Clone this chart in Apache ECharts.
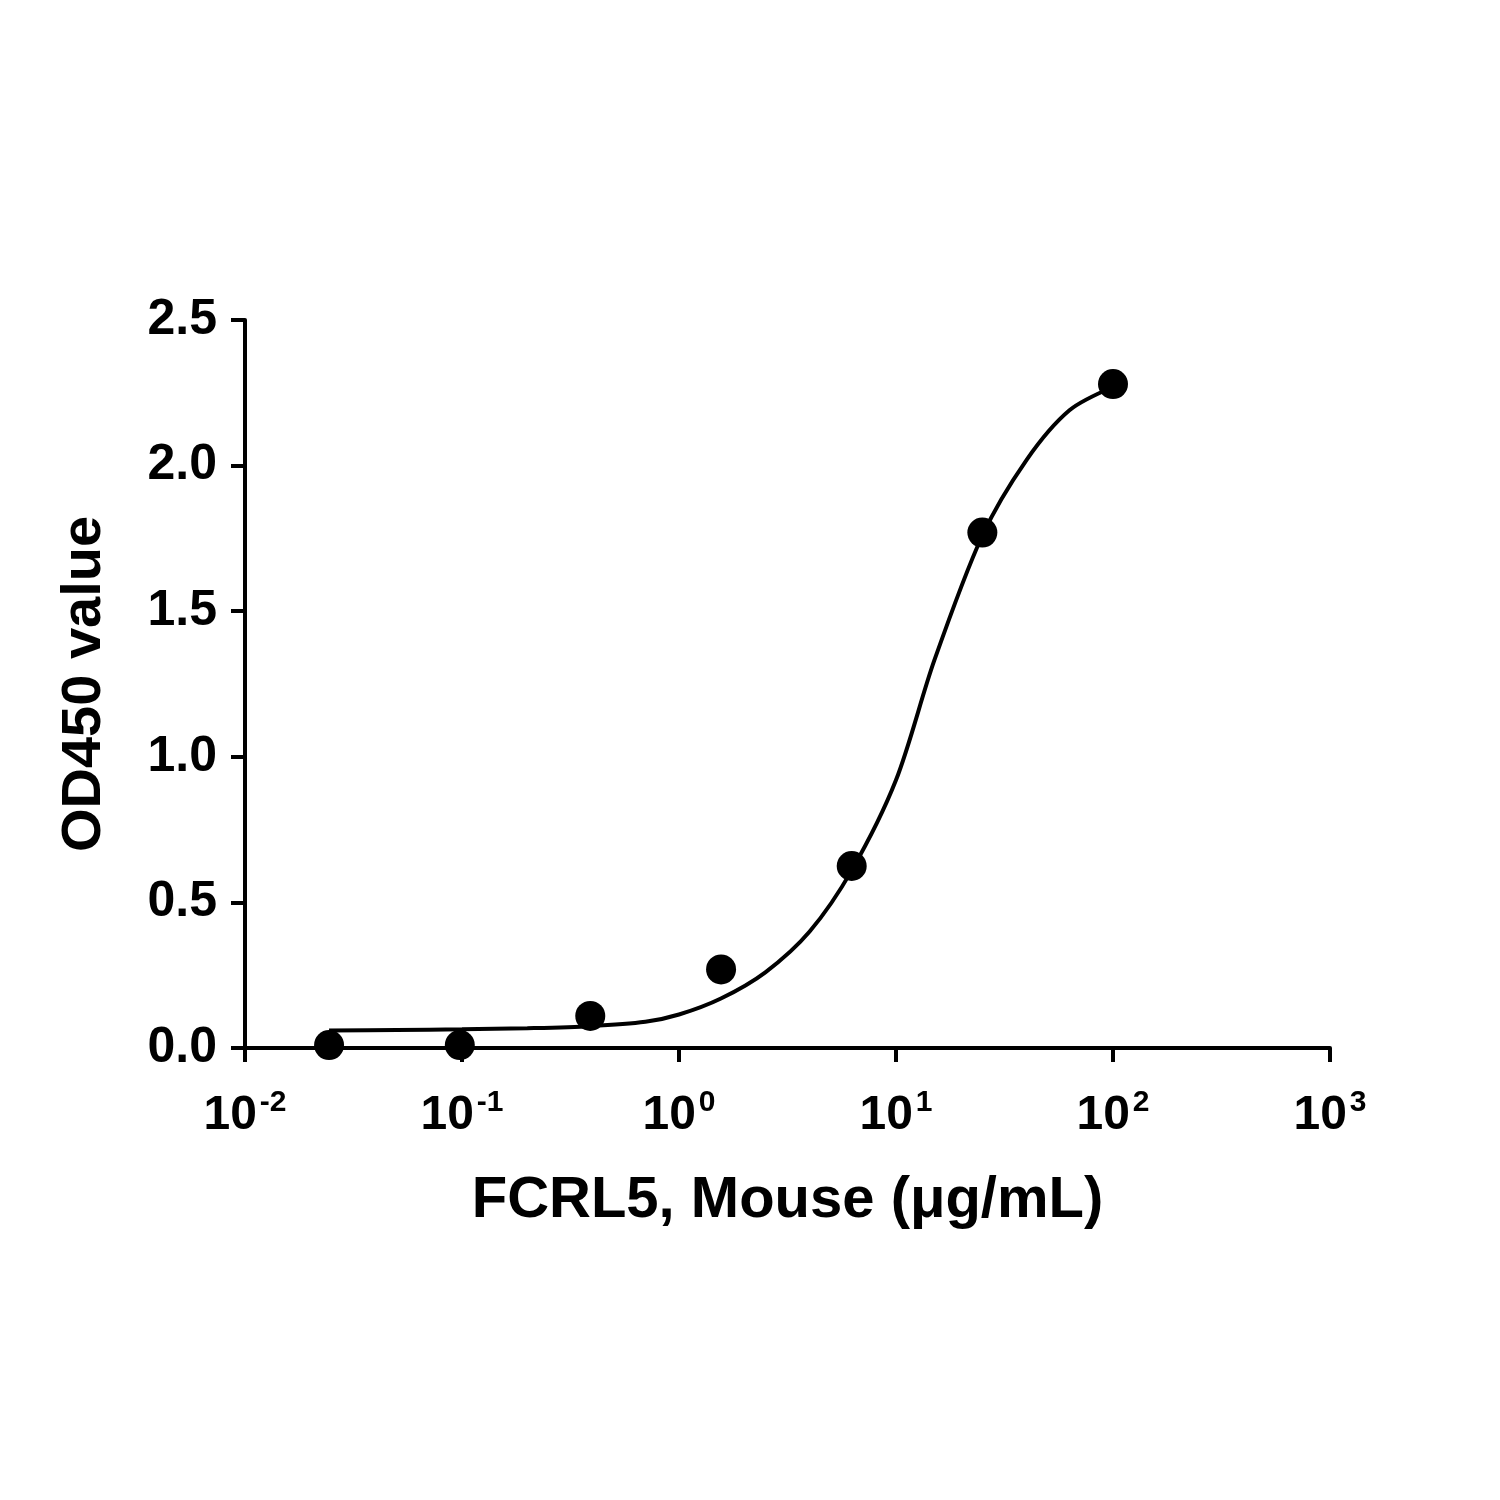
<!DOCTYPE html>
<html><head><meta charset="utf-8">
<script src="https://cdn.jsdelivr.net/npm/echarts@6/dist/echarts.min.js"></script>
<style>html,body{margin:0;background:#fff}#c{width:1500px;height:1500px}</style>
</head><body><div id="c"></div>
<script>
const concentrations = [0.0244, 0.0977, 0.39, 1.5625, 6.25, 25, 100];
const odValues = [0.01, 0.01, 0.11, 0.27, 0.625, 1.77, 2.28];
const curveX = [0.0244, 0.05, 0.1, 0.2, 0.39, 0.7, 1, 1.56, 2.5, 4, 6.25, 10, 15, 25, 40, 63, 100];
const curveY = [0.06, 0.062, 0.064, 0.068, 0.075, 0.09, 0.115, 0.17, 0.26, 0.40, 0.61, 0.92, 1.33, 1.76, 2.02, 2.19, 2.27];
const yTicks = ['0.0','0.5','1.0','1.5','2.0','2.5'];

const font = 'Liberation Sans, Arial, sans-serif';
const chart = echarts.init(document.getElementById('c'));
chart.setOption({
  backgroundColor: '#fff',
  animation: false,
  grid: {left: 245, right: 170, top: 320, bottom: 452},
  xAxis: {
    type: 'log', logBase: 10, min: 0.01, max: 1000,
    name: 'FCRL5, Mouse (μg/mL)', nameLocation: 'middle', nameGap: 124,
    nameTextStyle: {fontFamily: font, fontWeight: 'bold', fontSize: 58, color: '#000'},
    axisLine: {lineStyle: {color: '#000', width: 4}},
    axisTick: {length: 14, lineStyle: {color: '#000', width: 4}},
    splitLine: {show: false}, minorTick: {show: false},
    axisLabel: {
      margin: 40,
      formatter: v => '{b|10}{s|' + Math.round(Math.log10(v)) + '}',
      rich: {
        b: {fontFamily: font, fontWeight: 'bold', fontSize: 48, color: '#000'},
        s: {fontFamily: font, fontWeight: 'bold', fontSize: 30, color: '#000', verticalAlign: 'top', padding: [0,0,26,3]}
      }
    }
  },
  yAxis: {
    type: 'value', min: 0, max: 2.5, interval: 0.5,
    name: 'OD450 value', nameLocation: 'middle', nameGap: 132, nameRotate: 90,
    nameTextStyle: {fontFamily: font, fontWeight: 'bold', fontSize: 56, color: '#000'},
    axisLine: {show: true, lineStyle: {color: '#000', width: 4}},
    axisTick: {show: true, length: 14, lineStyle: {color: '#000', width: 4}},
    splitLine: {show: false},
    axisLabel: {margin: 28, fontFamily: font, fontWeight: 'bold', fontSize: 50, color: '#000',
      formatter: v => yTicks[Math.round(v / 0.5)]}
  },
  series: [
    {type: 'line', data: curveX.map((x, i) => [x, curveY[i]]), smooth: 0.3, showSymbol: false,
     lineStyle: {color: '#000', width: 4}, z: 2},
    {type: 'scatter', data: concentrations.map((x, i) => [x, odValues[i]]), symbolSize: 30,
     itemStyle: {color: '#000', opacity: 1}, z: 3}
  ]
});
</script></body></html>
